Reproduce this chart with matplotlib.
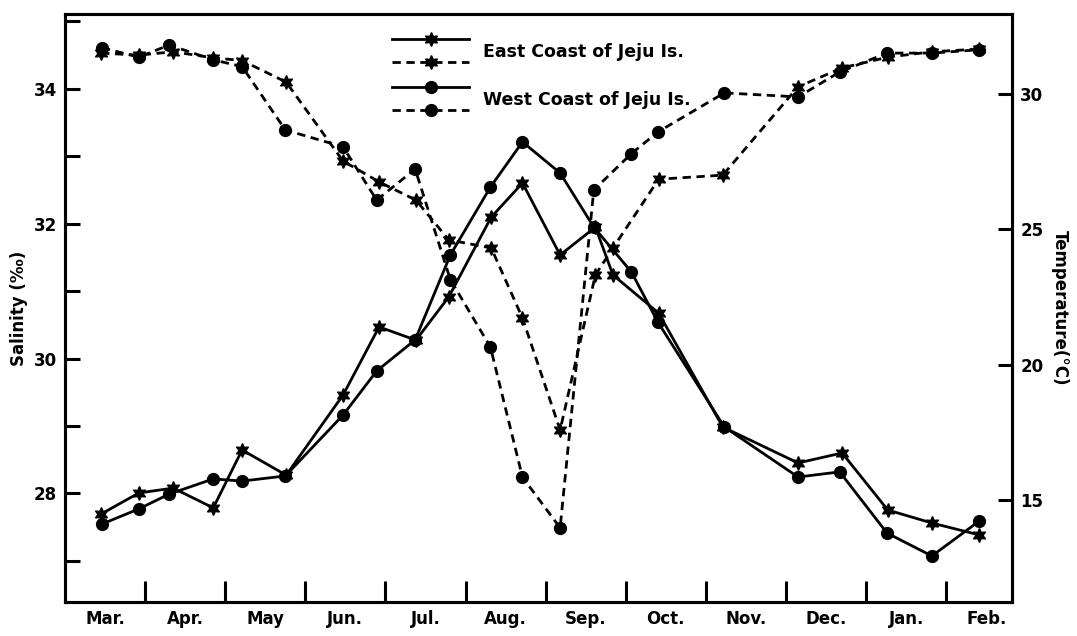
import numpy as np
import matplotlib
matplotlib.use("Agg")
import matplotlib.pyplot as plt
from matplotlib.lines import Line2D
from matplotlib.legend_handler import HandlerBase

# sampling dates in month units (1 = start of Apr, 0 = start of Mar)
east_t = [0.45, 0.92, 1.35, 1.85, 2.21, 2.76, 3.47, 3.92, 4.38, 4.79, 5.32, 5.71,
          6.18, 6.62, 6.84, 7.41, 8.21, 9.15, 9.70, 10.27, 10.82, 11.41]
west_t = [0.46, 0.92, 1.30, 1.85, 2.21, 2.75, 3.47, 3.89, 4.37, 4.81, 5.31, 5.71,
          6.18, 6.60, 7.07, 7.40, 8.23, 9.15, 9.67, 10.26, 10.82, 11.41]

# temperature (deg C)
east_temp = [14.47, 15.25, 15.43, 14.70, 16.84, 15.91, 18.87, 21.39, 20.90, 22.50, 25.45,
             26.71, 24.05, 25.08, 23.31, 21.90, 17.69, 16.36, 16.73, 14.62, 14.14, 13.70]
west_temp = [14.10, 14.66, 15.21, 15.77, 15.69, 15.88, 18.13, 19.76, 20.91, 24.05, 26.56,
             28.23, 27.08, 25.08, 23.42, 21.57, 17.69, 15.84, 16.03, 13.77, 12.92, 14.21]

# salinity (permil)
east_sal = [34.53, 34.50, 34.55, 34.46, 34.42, 34.10, 32.93, 32.62, 32.35, 31.76, 31.64,
            30.60, 28.94, 31.24, 31.64, 32.66, 32.72, 34.03, 34.31, 34.47, 34.55, 34.59]
west_sal = [34.61, 34.47, 34.65, 34.43, 34.33, 33.39, 33.14, 32.35, 32.81, 31.17, 30.17,
            28.24, 27.49, 32.50, 33.04, 33.36, 33.94, 33.88, 34.25, 34.53, 34.53, 34.58]

months = ["Mar.", "Apr.", "May", "Jun.", "Jul.", "Aug.", "Sep.", "Oct.", "Nov.", "Dec.", "Jan.", "Feb."]

plt.rcParams['font.family'] = ['DejaVu Sans']
plt.rcParams['font.weight'] = 'bold'

fig = plt.figure(figsize=(10.77, 6.36), dpi=100)
ax = fig.add_axes([0.0604, 0.0535, 0.8792, 0.9245])
ax2 = ax.twinx()

star = (6, 1, 0)
dash = (3, 2)
kw = dict(color='k', lw=2)

ax.plot(east_t, east_sal, ls='--', dashes=dash, marker=star, ms=10, **kw)
ax.plot(west_t, west_sal, ls='--', dashes=dash, marker='o', ms=8.5, **kw)
ax2.plot(east_t, east_temp, ls='-', marker=star, ms=10, **kw)
ax2.plot(west_t, west_temp, ls='-', marker='o', ms=8.5, **kw)

ax.set_xlim(0, 11.82)
ax.set_ylim(26.39, 35.11)
ax2.set_ylim(11.22, 32.96)

for a in (ax, ax2):
    for s in a.spines.values():
        s.set_linewidth(2.2)

ax.set_xticks(np.arange(1, 12))
ax.set_xticklabels([])
ax.set_xticks(np.arange(12) + 0.5, minor=True)
ax.set_xticklabels(months, minor=True, fontsize=12, fontweight='bold')
ax.tick_params(axis='x', which='major', direction='in', length=15, width=2.2)
ax.tick_params(axis='x', which='minor', length=0, pad=6)

ax.set_yticks(np.arange(27, 36))
ax.set_yticklabels([str(v) if v % 2 == 0 else "" for v in range(27, 36)], fontsize=12, fontweight='bold')
ax.tick_params(axis='y', direction='in', length=11, width=2.2, pad=6)

ax2.set_yticks([15, 20, 25, 30])
ax2.set_yticklabels(["15", "20", "25", "30"], fontsize=12, fontweight='bold')
ax2.tick_params(axis='y', direction='in', length=10, width=2.2, pad=6)

ax.set_ylabel("Salinity (‰)", fontsize=12, fontweight='bold', labelpad=4)
ax2.set_ylabel("Temperature(°C)", fontsize=12, fontweight='bold', rotation=270, labelpad=18)


class Stacked(HandlerBase):
    def create_artists(self, legend, orig_handle, xdescent, ydescent, width, height, fontsize, trans):
        out = []
        for i, h in enumerate(orig_handle):
            y = height / 2 + (0.5 - i) * 23 * 0.72
            ln = Line2D([0, width], [y, y], color='k', lw=h.get_linewidth(), ls=h.get_linestyle())
            if h.get_linestyle() != '-':
                ln.set_dashes(dash)
            mk = Line2D([width / 2], [y], color='k', ls='none', marker=h.get_marker(), ms=h.get_markersize())
            ln.set_transform(trans)
            mk.set_transform(trans)
            out += [ln, mk]
        return out


h_es = Line2D([], [], color='k', lw=2, ls='-', marker=star, ms=10)
h_ed = Line2D([], [], color='k', lw=2, ls='--', marker=star, ms=10)
h_ws = Line2D([], [], color='k', lw=2, ls='-', marker='o', ms=8.5)
h_wd = Line2D([], [], color='k', lw=2, ls='--', marker='o', ms=8.5)

leg = ax.legend([(h_es, h_ed), (h_ws, h_wd)],
                ["East Coast of Jeju Is.", "West Coast of Jeju Is."],
                handler_map={tuple: Stacked()}, loc='upper left',
                bbox_to_anchor=(0.3365, 0.966), frameon=False, borderpad=0,
                handlelength=4.4, handletextpad=0.8, labelspacing=1.75,
                prop={'size': 12.5, 'weight': 'bold'})

fig.savefig("out.png", dpi=100)
